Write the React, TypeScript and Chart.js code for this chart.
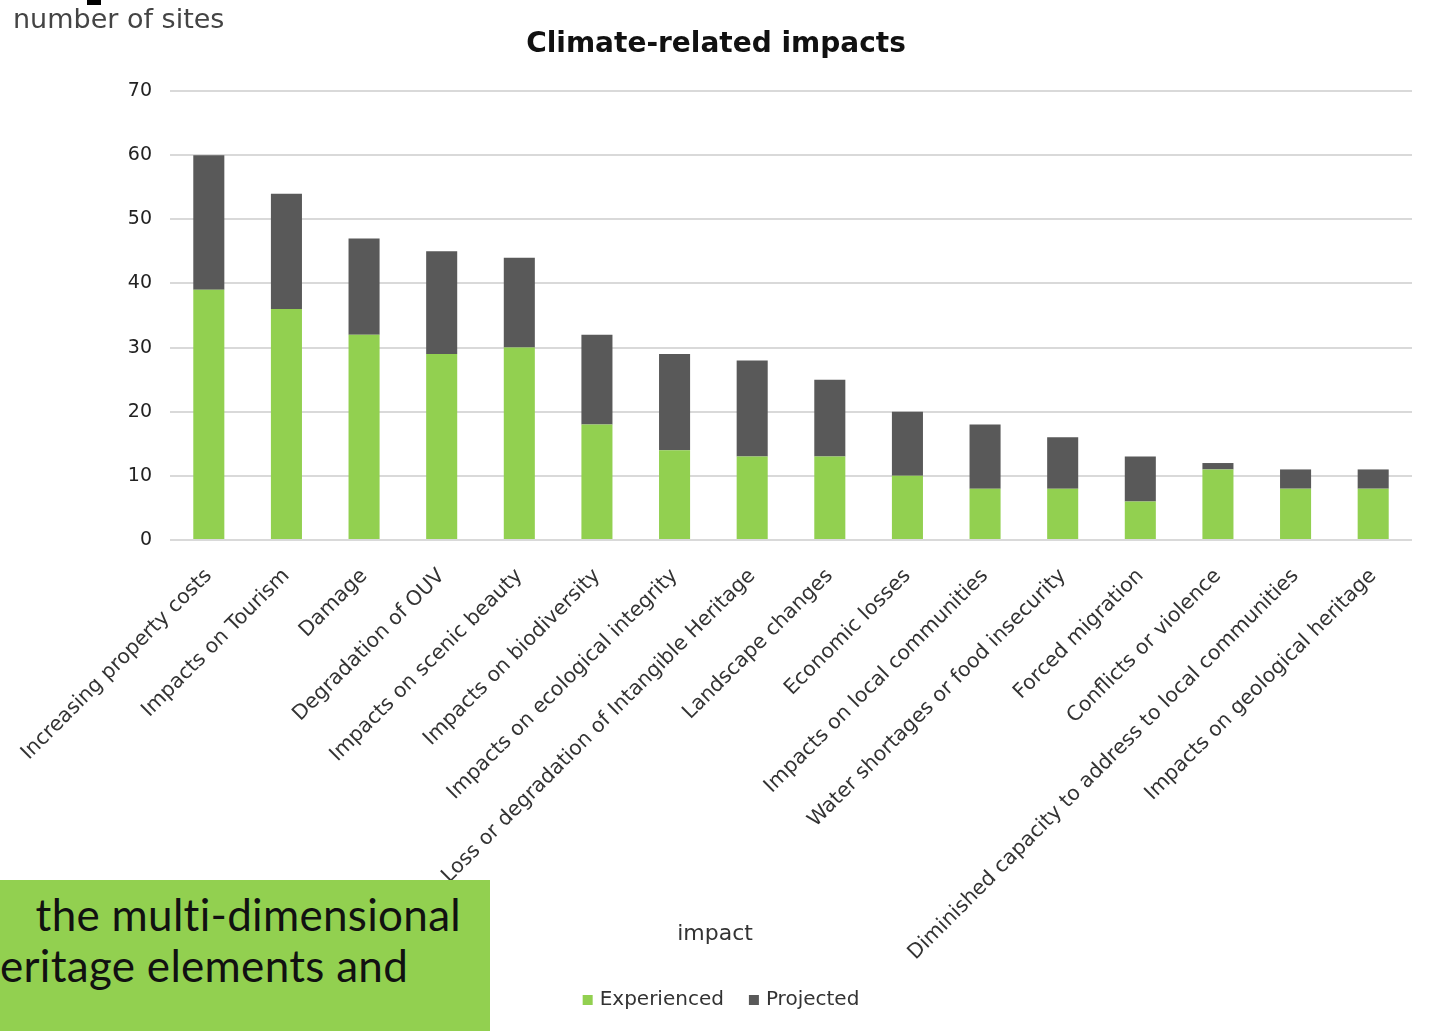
import React, { useEffect, useRef } from "react";
import { Chart, registerables } from "chart.js";

Chart.register(...registerables);

const categories = [
  "Increasing property costs",
  "Impacts on Tourism",
  "Damage",
  "Degradation of OUV",
  "Impacts on scenic beauty",
  "Impacts on biodiversity",
  "Impacts on ecological integrity",
  "Loss or degradation of Intangible Heritage",
  "Landscape changes",
  "Economic losses",
  "Impacts on local communities",
  "Water shortages or food insecurity",
  "Forced migration",
  "Conflicts or violence",
  "Diminished capacity to address to local communities",
  "Impacts on geological heritage",
];

const experienced = [39, 36, 32, 29, 30, 18, 14, 13, 13, 10, 8, 8, 6, 11, 8, 8];
const projected = [21, 18, 15, 16, 14, 14, 15, 15, 12, 10, 10, 8, 7, 1, 3, 3];

const seriesNames = ["Experienced", "Projected"];
const seriesColors = ["#92D050", "#595959"];

const yMin = 0;
const yMax = 70;
const yStep = 10;

const titleText = "Climate-related impacts";
const yAxisTitle = "number of sites";
const xAxisTitle = "impact";
const boxLine1 = " the multi-dimensional";
const boxLine2 = "eritage elements and";

const W = 1431;
const H = 1031;

const overlayPlugin = {
  id: "overlayTexts",
  afterDraw(chart: any) {
    const ctx = chart.ctx as CanvasRenderingContext2D;
    ctx.save();
    // title
    ctx.fillStyle = "#111111";
    ctx.font = "bold 28px 'DejaVu Sans'";
    ctx.textAlign = "center";
    ctx.textBaseline = "middle";
    ctx.fillText(titleText, 716, 45);
    // y axis title
    ctx.fillStyle = "#444444";
    ctx.font = "27px 'DejaVu Sans'";
    ctx.textAlign = "left";
    ctx.fillText(yAxisTitle, 13, 21);
    // x axis title
    ctx.fillStyle = "#333333";
    ctx.font = "22px 'DejaVu Sans'";
    ctx.textAlign = "center";
    ctx.fillText(xAxisTitle, 715, 934);
    // legend
    ctx.font = "20px 'DejaVu Sans'";
    const box = 10;
    const gapBoxText = 7;
    const gapItems = 25;
    const items = chart.data.datasets.map((d: any) => ({
      label: d.label,
      color: d.backgroundColor,
      w: ctx.measureText(d.label).width,
    }));
    const total = items.reduce(
      (s: number, it: any, i: number) => s + box + gapBoxText + it.w + (i > 0 ? gapItems : 0),
      0
    );
    let x = 721 - total / 2;
    const ly = 1000;
    ctx.textAlign = "left";
    items.forEach((it: any, i: number) => {
      if (i > 0) x += gapItems;
      ctx.fillStyle = it.color;
      ctx.fillRect(x, ly - box / 2, box, box);
      x += box + gapBoxText;
      ctx.fillStyle = "#333333";
      ctx.fillText(it.label, x, ly);
      x += it.w;
    });
    ctx.restore();
  },
};

export default function App() {
  const canvasRef = useRef<HTMLCanvasElement | null>(null);

  useEffect(() => {
    if (!canvasRef.current) return;
    const chart = new Chart(canvasRef.current, {
      type: "bar",
      data: {
        labels: categories,
        datasets: [
          {
            label: seriesNames[0],
            data: experienced,
            backgroundColor: seriesColors[0],
            barPercentage: 0.4,
            categoryPercentage: 1.0,
          },
          {
            label: seriesNames[1],
            data: projected,
            backgroundColor: seriesColors[1],
            barPercentage: 0.4,
            categoryPercentage: 1.0,
          },
        ],
      },
      options: {
        animation: false,
        responsive: false,
        devicePixelRatio: 1,
        layout: { padding: { top: 91, left: 0, right: 19, bottom: 0 } },
        plugins: {
          legend: { display: false },
          title: { display: false },
          tooltip: { enabled: false },
        },
        scales: {
          x: {
            stacked: true,
            grid: { display: false },
            border: { display: false },
            ticks: {
              autoSkip: false,
              minRotation: 45,
              maxRotation: 45,
              padding: 16,
              color: "#333333",
              font: { family: "'DejaVu Sans'", size: 20.5 },
            },
            afterFit(scale: any) {
              scale.height = H - 540;
              scale.paddingLeft = 0;
              scale.paddingRight = 0;
            },
          },
          y: {
            stacked: true,
            min: yMin,
            max: yMax,
            ticks: {
              stepSize: yStep,
              padding: 18,
              color: "#222222",
              font: { family: "'DejaVu Sans'", size: 19 },
            },
            grid: { color: "#d9d9d9", lineWidth: 2, drawTicks: false },
            border: { display: false },
            afterFit(scale: any) {
              scale.width = 170;
              scale.paddingTop = 0;
              scale.paddingBottom = 0;
            },
          },
        },
      },
      plugins: [overlayPlugin],
    });
    return () => chart.destroy();
  }, []);

  return (
    <div style={{ position: "absolute", left: 0, top: 0, width: W, height: H, background: "#ffffff", overflow: "hidden" }}>
      <canvas ref={canvasRef} width={W} height={H} style={{ width: W, height: H, display: "block" }} />
      <div style={{ position: "absolute", left: 87, top: 0, width: 14, height: 5, background: "#000" }} />
      <div
        style={{
          position: "absolute",
          left: 0,
          top: 880,
          width: 490,
          height: 151,
          background: "#92D050",
          overflow: "hidden",
          fontFamily: "Lato, 'Open Sans', sans-serif",
          fontSize: 44,
          letterSpacing: "0.3px",
          color: "#111",
        }}
      >
        <div style={{ position: "absolute", left: 24, top: 9, whiteSpace: "pre", lineHeight: "50px" }}>{boxLine1}</div>
        <div style={{ position: "absolute", left: 0, top: 60, whiteSpace: "pre", lineHeight: "50px" }}>{boxLine2}</div>
      </div>
    </div>
  );
}
